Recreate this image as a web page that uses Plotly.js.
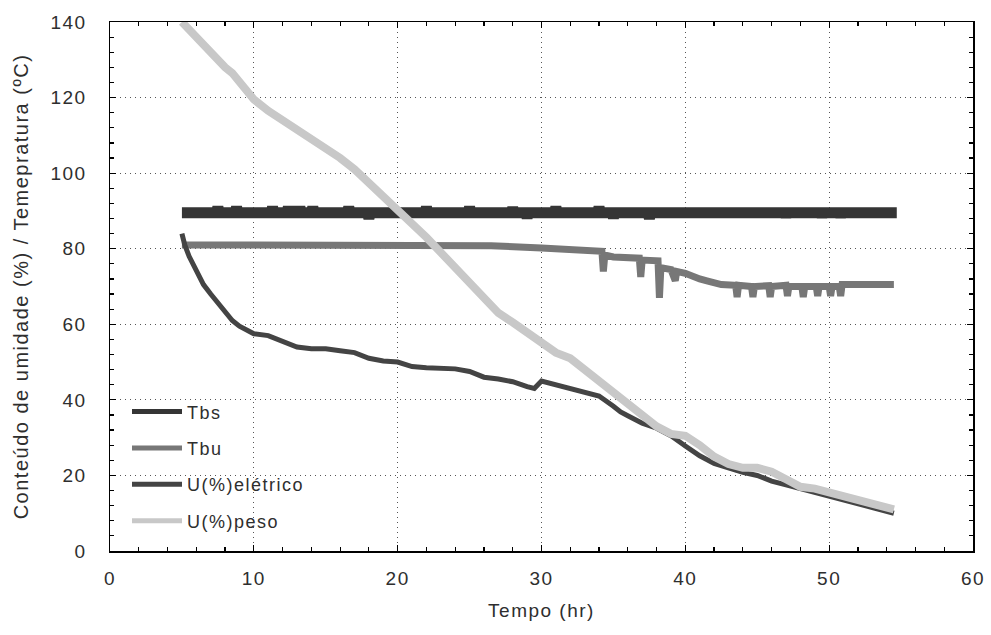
<!DOCTYPE html>
<html>
<head>
<meta charset="utf-8">
<script src="https://cdn.plot.ly/plotly-3.0.1.min.js"></script>
<style>
html,body{margin:0;padding:0;background:#fff;}
#chart{width:991px;height:635px;}
svg text{letter-spacing:1.5px;}
</style>
</head>
<body>
<div id="chart"></div>
<script>
// Tbs (dry-bulb temperature)
const tbsTime = [5,7.4,7.5,7.6,8.7,8.8,8.9,11.2,11.3,11.4,12.3,12.4,12.5,12.6,12.7,12.8,13.1,13.2,13.3,14,14.1,14.2,16.5,16.6,16.7,17.9,18,18.1,21.9,22,22.1,24.9,25,25.1,27.9,28,28.1,28.9,29,29.1,30.9,31,31.1,33.9,34,34.1,34.9,35,35.1,37.4,37.5,37.6,46.9,47,47.1,49.4,49.5,49.6,50.7,50.8,50.9,54.7];
const tbsVal  = [89.5,89.5,91,89.5,89.5,91,89.5,89.5,91,89.5,89.5,91,89.5,89.5,91,89.5,89.5,91,89.5,89.5,91,89.5,89.5,91,89.5,89.5,88,89.5,89.5,91,89.5,89.5,91,89.5,89.5,90.8,89.5,89.5,88.2,89.5,89.5,91,89.5,89.5,91,89.5,89.5,88.2,89.5,89.5,88,89.5,89.5,88.5,89.5,89.5,88.5,89.5,89.5,88.5,89.5,89.5];

// Tbu (wet-bulb temperature)
const tbuTime = [5,26,26.5,30,34,34.2,34.3,34.4,35,36.8,36.9,37,38.1,38.2,38.3,39,39.3,39.4,40,40.5,41,41.5,42,42.5,43.5,43.6,43.7,44.6,44.7,44.8,45.8,45.9,46,47,47.1,47.2,48.1,48.2,48.3,49.1,49.2,49.3,50,50.1,50.2,50.7,50.8,50.9,54.5];
const tbuVal  = [81,81,80.8,80.2,79.5,79.3,74,78.3,77.8,77.5,72.5,77,76.8,67,75,74.5,71.5,74,73.5,72.5,72,71.5,70.8,70.5,70.3,67.2,70.3,70,67.2,70,70.2,67.2,70,70.3,67.5,70,70,67.2,70,70,67.5,70,70,67.5,70,70,67.5,70.5,70.5];

// U(%) eletrico
const ueTime = [5,5.2,5.5,6,6.5,7,7.5,8,8.5,9,9.5,10,11,12,13,14,15,16,17,18,19,20,21,22,23,24,25,26,27,28,29,29.5,30,30.5,31,32,33,34,35,35.5,36,37,38,39,40,41,42,43,44,45,46,47,48,49,50,51,52,53,54,54.5];
const ueVal  = [84,81,78,74,70.5,68,65.5,63,61,59.5,58.5,57.5,57,55.5,54,53.5,53.5,53,52.5,51,50.3,50,48.8,48.5,48.5,48.2,47.5,46,45.5,44.8,43.5,43,45,44.5,44,43,42,41,38.3,36.8,35.8,33.8,32.5,30.5,27.8,25.2,23.2,22,20.8,20,18.5,17.5,16.5,15.5,14.5,13.5,12.5,11.5,10.3,10];

// U(%) peso
const upTime = [5,5.5,6,6.5,7,7.5,8,8.5,9,9.5,10,11,12,13,14,15,16,17,18,19,20,21,22,23,24,25,26,27,28,29,30,31,32,33,34,35,36,37,38,39,40,41,42,43,44,45,46,47,48,49,50,51,52,53,54,54.5];
const upVal  = [140,138,135.5,133.5,131.5,129.5,128,126.5,124,121.5,119.5,116.5,114,112,109,106.5,104,101,97.5,94,90.5,87,83,79,75,71.5,67,63,60.5,58,55.5,52.5,51,48,45,42.5,39,36,33,31,30.5,28,25,23,22,22,21,19,17,16.5,15.5,15,13.5,12.5,11.5,11];

const seriesNames = ["Tbs","Tbu","U(%)elétrico","U(%)peso"];
const xTicks = [0,10,20,30,40,50,60];
const yTicks = [0,20,40,60,80,100,120,140];

const font = "Liberation Sans, Arial, sans-serif";
const textColor = "#2e2e2e";

const traces = [
  {x: tbsTime, y: tbsVal, name: seriesNames[0], legendgroup: "a", mode: "lines", line: {color: "#353535", width: 11}},
  {x: tbuTime, y: tbuVal, name: seriesNames[1], legendgroup: "b", mode: "lines", line: {color: "#777777", width: 7}},
  {x: ueTime, y: ueVal, name: seriesNames[2], legendgroup: "c", mode: "lines", line: {color: "#444444", width: 5}},
  {x: upTime, y: upVal, name: seriesNames[3], legendgroup: "d", mode: "lines", line: {color: "#c8c8c8", width: 8}}
];

const axisCommon = {
  showline: true, linecolor: "#000", linewidth: 1.5, mirror: "ticks",
  ticks: "inside", ticklen: 6, tickwidth: 1.2, tickcolor: "#000",
  showgrid: true, gridcolor: "#555", griddash: "1px,4px", gridwidth: 1,
  zeroline: false,
  tickfont: {family: font, size: 19, color: textColor}
};

const layout = {
  width: 991, height: 635,
  margin: {l: 110, r: 18, t: 22, b: 84},
  paper_bgcolor: "#fff", plot_bgcolor: "#fff",
  showlegend: true,
  legend: {
    x: 0.0197, y: 0.298, xanchor: "left", yanchor: "top",
    bgcolor: "rgba(0,0,0,0)", borderwidth: 0,
    font: {family: font, size: 18, color: textColor},
    traceorder: "grouped", tracegroupgap: 10, itemwidth: 50,
    itemsizing: "constant"
  },
  xaxis: Object.assign({}, axisCommon, {
    range: [0, 60], tickvals: xTicks, ticktext: xTicks.map(String),
    ticklabelstandoff: 10,
    minor: {dtick: 2, ticks: "inside", ticklen: 4, tickcolor: "#000", showgrid: false},
    title: {text: "Tempo (hr)", font: {family: font, size: 19, color: textColor}, standoff: 15}
  }),
  yaxis: Object.assign({}, axisCommon, {
    range: [0, 140], tickvals: yTicks, ticktext: yTicks.map(String),
    ticklabelstandoff: 18,
    minor: {dtick: 4, ticks: "inside", ticklen: 4, tickcolor: "#000", showgrid: false},
    title: {text: "Conteúdo de umidade (%) / Temepratura (ºC)", font: {family: font, size: 20, color: textColor}, standoff: 16}
  })
};

Plotly.newPlot("chart", traces, layout, {staticPlot: true, displayModeBar: false});
</script>
</body>
</html>
